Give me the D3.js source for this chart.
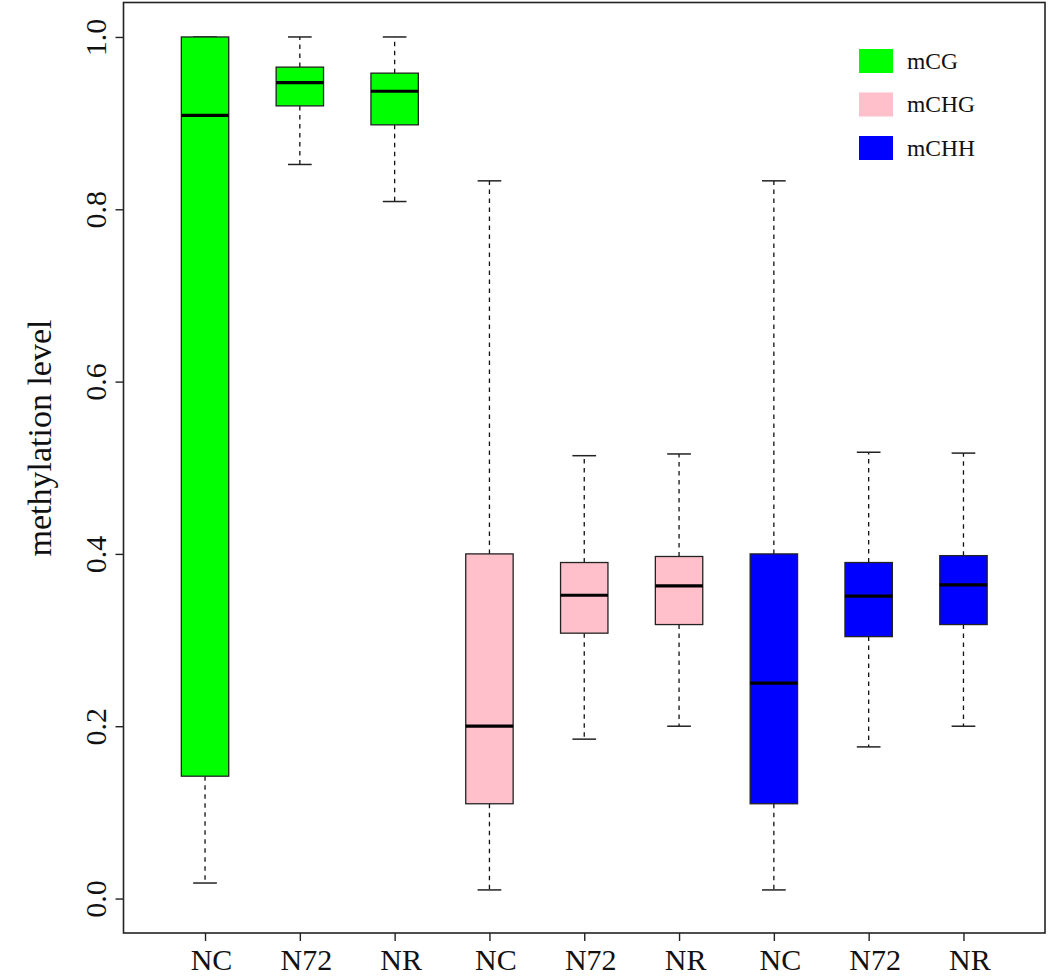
<!DOCTYPE html>
<html>
<head>
<meta charset="utf-8">
<script src="https://cdn.jsdelivr.net/npm/d3@7"></script>
<style>
  body { margin: 0; background: #fff; }
  svg text { font-family: "Liberation Serif", "Times New Roman", serif; fill: #111; }
</style>
</head>
<body>
<svg id="chart" width="1055" height="979"></svg>
<script>
// box labels along the x axis, three per methylation context
const groupLabels = ["NC", "N72", "NR", "NC", "N72", "NR", "NC", "N72", "NR"];
const seriesNames = ["mCG", "mCHG", "mCHH"];
const seriesColors = ["#00ff00", "#ffc0cb", "#0000ff"];
// which series each box belongs to
const boxSeries = [0, 0, 0, 1, 1, 1, 2, 2, 2];

// boxplot stats
const lowWhisker  = [0.018, 0.852, 0.809, 0.010, 0.185, 0.200, 0.010, 0.176, 0.200];
const q1          = [0.142, 0.920, 0.898, 0.110, 0.308, 0.318, 0.110, 0.304, 0.318];
const median      = [0.909, 0.947, 0.937, 0.200, 0.352, 0.363, 0.250, 0.351, 0.364];
const q3          = [1.000, 0.965, 0.958, 0.400, 0.390, 0.397, 0.400, 0.390, 0.398];
const highWhisker = [1.000, 1.000, 1.000, 0.833, 0.514, 0.516, 0.833, 0.518, 0.517];

const yTicks = [0, 0.2, 0.4, 0.6, 0.8, 1.0];

const boxes = groupLabels.map((label, i) => ({
  pos: i + 1,
  label: label,
  series: boxSeries[i],
  lo: lowWhisker[i],
  q1: q1[i],
  med: median[i],
  q3: q3[i],
  hi: highWhisker[i],
}));

const plot = { left: 123.5, top: 2.5, right: 1045, bottom: 933 };
const svg = d3.select("#chart");

// R style: 4% padding around the data range
const x = d3.scaleLinear()
  .domain([0.5 - 0.36, 9.5 + 0.36])
  .range([plot.left, plot.right]);
const y = d3.scaleLinear()
  .domain([-0.04, 1.04])
  .range([plot.bottom, plot.top]);

const step = x(2) - x(1);
const boxW = step * 0.5;
const capW = boxW * 0.5;

const g = svg.append("g");

const box = g.selectAll(".box")
  .data(boxes)
  .enter()
  .append("g")
  .attr("class", "box");

// dashed whiskers
box.append("line")
  .attr("x1", (d) => x(d.pos)).attr("x2", (d) => x(d.pos))
  .attr("y1", (d) => y(d.q1)).attr("y2", (d) => y(d.lo))
  .attr("stroke", "#111").attr("stroke-width", 1.3)
  .attr("stroke-dasharray", "4.5,4.5");
box.append("line")
  .attr("x1", (d) => x(d.pos)).attr("x2", (d) => x(d.pos))
  .attr("y1", (d) => y(d.q3)).attr("y2", (d) => y(d.hi))
  .attr("stroke", "#111").attr("stroke-width", 1.3)
  .attr("stroke-dasharray", "4.5,4.5");

// caps
box.append("line")
  .attr("x1", (d) => x(d.pos) - capW / 2).attr("x2", (d) => x(d.pos) + capW / 2)
  .attr("y1", (d) => y(d.lo)).attr("y2", (d) => y(d.lo))
  .attr("stroke", "#222").attr("stroke-width", 1.5);
box.append("line")
  .attr("x1", (d) => x(d.pos) - capW / 2).attr("x2", (d) => x(d.pos) + capW / 2)
  .attr("y1", (d) => y(d.hi)).attr("y2", (d) => y(d.hi))
  .attr("stroke", "#222").attr("stroke-width", 1.5);

// box body
box.append("rect")
  .attr("x", (d) => x(d.pos) - boxW / 2)
  .attr("width", boxW)
  .attr("y", (d) => y(d.q3))
  .attr("height", (d) => y(d.q1) - y(d.q3))
  .attr("fill", (d) => seriesColors[d.series])
  .attr("stroke", "#222")
  .attr("stroke-width", 1.3);

// median
box.append("line")
  .attr("x1", (d) => x(d.pos) - boxW / 2).attr("x2", (d) => x(d.pos) + boxW / 2)
  .attr("y1", (d) => y(d.med)).attr("y2", (d) => y(d.med))
  .attr("stroke", "#000").attr("stroke-width", 3.2);

// frame
svg.append("rect")
  .attr("x", plot.left).attr("y", plot.top)
  .attr("width", plot.right - plot.left)
  .attr("height", plot.bottom - plot.top)
  .attr("fill", "none")
  .attr("stroke", "#222")
  .attr("stroke-width", 1.6);

// y axis, labels turned sideways like R's default
const yAxis = svg.append("g")
  .attr("transform", `translate(${plot.left},0)`)
  .call(d3.axisLeft(y).tickValues(yTicks).tickSize(8).tickFormat(d3.format(".1f")));
yAxis.select(".domain").remove();
yAxis.selectAll("line").attr("stroke", "#222").attr("stroke-width", 1.4);
yAxis.selectAll("text")
  .attr("transform", "rotate(-90)")
  .attr("x", 0)
  .attr("y", -18)
  .attr("dy", 0)
  .attr("text-anchor", "middle")
  .style("font-size", "30px")
  .style("font-family", "'Liberation Serif', serif")
  .attr("fill", "#111");

// x axis
const xAxis = svg.append("g")
  .attr("transform", `translate(0,${plot.bottom})`)
  .call(d3.axisBottom(x).tickValues(boxes.map((d) => d.pos)).tickSize(8)
    .tickFormat((d) => groupLabels[d - 1]));
xAxis.select(".domain").remove();
xAxis.selectAll("line").attr("stroke", "#222").attr("stroke-width", 1.4);
xAxis.selectAll("text")
  .attr("y", 37)
  .attr("dy", 0)
  .attr("dx", 6)
  .style("font-size", "30px")
  .style("font-family", "'Liberation Serif', serif")
  .attr("fill", "#111");

// y axis title
svg.append("text")
  .attr("transform", `translate(51,${(318 + 558) / 2}) rotate(-90)`)
  .attr("text-anchor", "middle")
  .style("font-size", "34px")
  .text("methylation level");

// legend
const legend = svg.append("g")
  .attr("transform", "translate(859,49)");
const item = legend.selectAll(".item")
  .data(seriesNames)
  .enter()
  .append("g")
  .attr("class", "item")
  .attr("transform", (d, i) => `translate(0,${i * 43.5})`);
item.append("rect")
  .attr("width", 34)
  .attr("height", 24)
  .attr("fill", (d, i) => seriesColors[i]);
item.append("text")
  .attr("x", 48)
  .attr("y", 19.5)
  .style("font-size", "23.5px")
  .text((d) => d);
</script>
</body>
</html>
